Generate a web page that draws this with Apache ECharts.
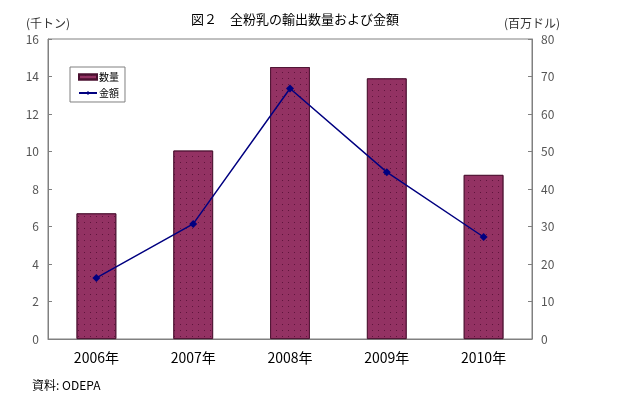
<!DOCTYPE html>
<html>
<head>
<meta charset="utf-8">
<script src="https://cdn.jsdelivr.net/npm/echarts@6/dist/echarts.min.js"></script>
<style>
  html, body { margin: 0; padding: 0; background: #fff; }
  #chart { width: 640px; height: 396px; }
</style>
</head>
<body>
<div id="chart"></div>
<script>
// values
const years = ['2006年', '2007年', '2008年', '2009年', '2010年']
const volume = [6.7, 10.05, 14.5, 13.9, 8.75]   // 千トン (left axis)
const value = [16.3, 30.7, 66.8, 44.5, 27.2]    // 百万ドル (right axis)
const leftTicks = { min: 0, max: 16, interval: 2 }
const rightTicks = { min: 0, max: 80, interval: 10 }

const font = '"Noto Sans CJK JP", "Noto Sans", sans-serif'
const axisGray = '#808080'
const plum = '#933263'
const navy = '#000080'

const chart = echarts.init(document.getElementById('chart'), null, { renderer: 'canvas' })

chart.setOption({
  animation: false,
  backgroundColor: '#fff',
  textStyle: { fontFamily: font },
  title: [
    {
      text: '図２　全粉乳の輸出数量および金額',
      left: 290, top: 8, textAlign: 'center',
      textStyle: { fontSize: 13, fontWeight: 'normal', color: '#000', fontFamily: font }
    },
    {
      text: '資料: ODEPA',
      left: 27, top: 374,
      textStyle: { fontSize: 12, fontWeight: 'normal', color: '#000', fontFamily: font }
    }
  ],
  legend: {
    orient: 'vertical',
    left: 70, top: 67,
    padding: [5, 6, 4, 8],
    itemGap: 6,
    itemWidth: 18, itemHeight: 5,
    borderColor: '#808080', borderWidth: 1,
    textStyle: { fontSize: 10, color: '#000', padding: [0, 0, 0, -3] },
    data: [
      { name: '数量', icon: 'rect' },
      { name: '金額' }
    ]
  },
  grid: { left: 48, right: 108, top: 39, bottom: 57, show: true, borderColor: axisGray, borderWidth: 1 },
  xAxis: {
    type: 'category',
    data: years,
    axisLine: { lineStyle: { color: axisGray } },
    axisTick: { inside: true, length: 5, lineStyle: { color: axisGray } },
    axisLabel: { color: '#000', fontSize: 14, margin: 12, fontFamily: font }
  },
  yAxis: [
    {
      type: 'value',
      ...leftTicks,
      name: '(千トン)',
      nameGap: 10,
      nameTextStyle: { color: '#333', fontSize: 12, align: 'center' },
      axisLine: { show: true, lineStyle: { color: axisGray } },
      axisTick: { show: true, inside: true, length: 4, lineStyle: { color: axisGray } },
      axisLabel: { color: '#555', fontSize: 12, margin: 9 },
      splitLine: { show: false }
    },
    {
      type: 'value',
      ...rightTicks,
      name: '(百万ドル)',
      nameGap: 10,
      nameTextStyle: { color: '#333', fontSize: 12, align: 'center' },
      axisLine: { show: true, lineStyle: { color: axisGray } },
      axisTick: { show: true, inside: true, length: 4, lineStyle: { color: axisGray } },
      axisLabel: { color: '#555', fontSize: 12, margin: 9 },
      splitLine: { show: false }
    }
  ],
  series: [
    {
      name: '数量',
      type: 'bar',
      data: volume,
      barWidth: '41%',
      itemStyle: {
        color: plum,
        borderColor: '#4a1030',
        borderWidth: 0.8,
        decal: {
          symbol: 'rect',
          symbolSize: 1,
          color: 'rgba(60,0,35,0.6)',
          dashArrayX: [[1, 5]],
          dashArrayY: [1, 5],
          rotation: 0
        }
      }
    },
    {
      name: '金額',
      type: 'line',
      yAxisIndex: 1,
      data: value,
      symbol: 'diamond',
      symbolSize: 8,
      itemStyle: { color: navy },
      lineStyle: { color: navy, width: 1.5 }
    }
  ]
})
</script>
</body>
</html>
